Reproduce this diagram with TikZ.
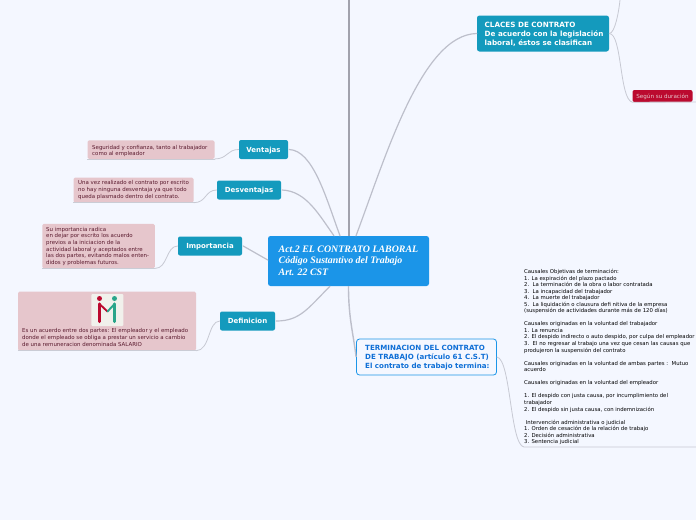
\documentclass[tikz,border=0pt]{standalone}
\usepackage{fontspec}
\setmainfont{DejaVu Sans}
\newfontfamily\titlefont{Liberation Serif}
\definecolor{bgc}{HTML}{F4F7FF}
\definecolor{teal1}{HTML}{149ABD}
\definecolor{blue1}{HTML}{1B95E8}
\definecolor{pinkb}{HTML}{E6C6CC}
\definecolor{pinkt}{HTML}{5A1A2E}
\definecolor{redb}{HTML}{BB0A2F}
\definecolor{linec}{HTML}{BDBFCB}
\definecolor{bluet}{HTML}{0F6FD6}
\definecolor{dgreen}{HTML}{2AA58A}
\definecolor{iconb}{HTML}{F1F1EC}
\tikzset{
 x=1pt,y=-1pt,
 branch/.style={fill=teal1,rounded corners=2pt,text=white,font=\bfseries\fontsize{7}{8.6}\selectfont,inner sep=0pt,text height=5pt,text depth=0pt},
 notebox/.style={fill=pinkb,rounded corners=1.5pt,inner sep=0pt},
 notetext/.style={text=pinkt,font=\fontsize{5.45}{6.6}\selectfont,align=left,inner sep=0pt,anchor=north west},
 link/.style={draw=linec,line width=1.2pt,line cap=round},
 thin link/.style={draw=linec!85!white,line width=0.8pt,line cap=round},
 under/.style={draw=linec!80!white,line width=0.8pt},
}
\begin{document}
\begin{tikzpicture}
\useasboundingbox (0,0) rectangle (696,520);
\fill[bgc] (0,0) rectangle (696,520);
% nodes
\node[fill=blue1,rounded corners=2.5pt,minimum width=161pt,minimum height=50pt,inner sep=0pt] (central) at (348.5,261) {};
\node[text=white,font=\titlefont\bfseries\itshape\fontsize{9.9}{11.7}\selectfont,align=left,inner sep=0pt,anchor=north west] (ctitle) at (278.5,245.5) {Act.2 EL CONTRATO LABORAL\\Código Sustantivo del Trabajo\\Art. 22 CST};
\coordinate (topend) at (349,0);
\node[branch,minimum width=49pt,minimum height=19pt] (ventajas) at (263.5,149.5) {Ventajas};
\node[branch,minimum width=64pt,minimum height=19pt] (desv) at (249,190) {Desventajas};
\node[branch,minimum width=64pt,minimum height=19pt] (imp) at (210,246) {Importancia};
\node[branch,minimum width=55pt,minimum height=19pt] (defi) at (247.5,321) {Definicion};
\node[fill=teal1,rounded corners=2.5pt,minimum width=132pt,minimum height=36pt,inner sep=0pt] (claces) at (543,33.5) {};
\node[text=white,font=\bfseries\fontsize{7.2}{8.8}\selectfont,align=left,inner sep=0pt,anchor=north west] (clacest) at (484.5,22) {CLACES DE CONTRATO\\De acuerdo con la legislación\\laboral, éstos se clasifican};
\node[fill=redb,rounded corners=2pt,minimum width=60pt,minimum height=12pt,inner sep=0pt,text=pinkb,font=\fontsize{5.6}{6}\selectfont,text height=4pt,text depth=0pt] (dura) at (662.5,96) {Según su duración};
\node[draw=blue1,line width=0.8pt,fill=bgc,rounded corners=3pt,minimum width=140pt,minimum height=36pt,inner sep=0pt] (term) at (426.5,357) {};
\node[text=bluet,font=\bfseries\fontsize{7.1}{9}\selectfont,align=left,inner sep=0pt,anchor=north west] (termt) at (365,345) {TERMINACION DEL CONTRATO\\DE TRABAJO (artículo 61 C.S.T)\\El contrato de trabajo termina:};
% notes
\node[notebox,minimum width=127pt,minimum height=18.5pt] (n1) at (151,149.5) {};
\node[notetext] (n1t) at (92,145) {Seguridad y confianza, tanto al trabajador\\como al empleador};
\node[notebox,minimum width=120pt,minimum height=25pt] (n2) at (133.5,190) {};
\node[notetext] (n2t) at (78,180.5) {Una vez realizado el contrato por escrito\\no hay ninguna desventaja ya que todo\\queda plasmado dentro del contrato.};
\node[notebox,minimum width=112.5pt,minimum height=44.5pt] (n3) at (98.5,246) {};
\node[notetext] (n3t) at (46,227) {Su importancia radica\\en dejar por escrito los acuerdo\\previos a la iniciacion de la\\actividad laboral y aceptados entre\\las dos partes, evitando malos enten-\\didos y problemas futuros.};
\node[notebox,minimum width=178pt,minimum height=59pt] (n4) at (107,321) {};
\node[notetext] (n4t) at (22,328.5) {Es un acuerdo entre dos partes: El empleador y el empleado\\donde el empleado se obliga a prestar un servicio a cambio\\de una remuneracion denominada SALARIO};
\node[fill=iconb,rounded corners=1pt,minimum width=32pt,minimum height=32pt,inner sep=0pt] (icon) at (107.3,310) {};
\node[notetext,text=black,font=\fontsize{5.35}{6.55}\selectfont] (tt) at (524,269) {Causales Objetivas de terminación:\\
1. La expiración del plazo pactado\\
2.\ \ La terminación de la obra o labor contratada\\
3.\ \ La incapacidad del trabajador\\
4.\ \ La muerte del trabajador\\
5.\ \ La liquidación o clausura defi nitiva de la empresa\\
(suspensión de actividades durante más de 120 días)\\[6.55pt]
Causales originadas en la voluntad del trabajador\\
1. La renuncia\\
2. El despido indirecto o auto despido, por culpa del empleador\\
3.\ \ El no regresar al trabajo una vez que cesan las causas que\\
produjeron la suspensión del contrato\\[6.55pt]
Causales originadas en la voluntad de ambas partes :\ \ Mutuo\\
acuerdo\\[6.55pt]
Causales originadas en la voluntad del empleador\\[6.55pt]
1. El despido con justa causa, por incumplimiento del\\
trabajador\\
2. El despido sin justa causa, con indemnización\\[6.55pt]
\ Intervención administrativa o judicial\\
1. Orden de cesación de la relación de trabajo\\
2. Decisión administrativa\\
3. Sentencia judicial};
% icon
\fill[redb] (99.5,298.5) circle (2.5);
\fill[dgreen] (114.5,298.5) circle (2.5);
\draw[redb,line width=3.4pt,line cap=round] (99.5,304) -- (99.5,321.5);
\draw[dgreen,line width=3.4pt,line cap=round] (114.5,304) -- (114.5,321.5);
\draw[redb,line width=1.9pt,line cap=round] (99.5,304) -- (107.5,311.5);
\draw[dgreen,line width=1.9pt,line cap=round] (114.5,304) -- (107.5,311.5);
% connectors
\draw[draw=linec!85!black,line width=2.2pt] (topend) -- (central.north -| topend);
\draw[link] (ventajas.east) ++(1,0) .. controls +(24,1) and +(-14,-38) .. ([xshift=-8.5pt]central.north);
\draw[link] (desv.east) ++(1,0) .. controls +(24,1) and +(-15,-21) .. ([xshift=-14.5pt]central.north);
\draw[link] (imp.east) ++(1,0) -- ([yshift=1pt]central.west);
\draw[link] (defi.east) ++(1,0) .. controls +(24,0) and +(-22,22) .. ([xshift=-18.5pt]central.south);
\draw[draw=linec,line width=1.4pt] (central.south) .. controls +(0,32) and +(-3,-25) .. (term.west);
\draw[link] (claces.west) .. controls +(-55,1) and +(30,-80) .. ([xshift=7.5pt]central.north);
% twig links
\draw[thin link] (n1.south east) .. controls +(13,0) and +(-12,0) .. (ventajas.west);
\draw[thin link] (n2.south east) .. controls +(13,0) and +(-12,0) .. (desv.west);
\draw[thin link] (n3.south east) .. controls +(13,0) and +(-12,0) .. (imp.west);
\draw[thin link] (n4.south east) .. controls +(14,0) and +(-12,0) .. (defi.west);
\draw[under] (n1.south west) -- (n1.south east);
\draw[under] (n2.south west) -- (n2.south east);
\draw[under] (n3.south west) -- (n3.south east);
\draw[under] (n4.south west) -- (n4.south east);
\coordinate (upperend) at (620,0);
\coordinate (bottomend) at (696,447);
\coordinate (duraend) at (696,102);
\draw[thin link] (claces.east) .. controls +(6,0) and +(-1,10) .. (upperend);
\draw[thin link] (claces.east) .. controls +(13,0) and +(-13,-3) .. (dura.south west);
\draw[under] (dura.south west) -- (duraend);
\draw[thin link] (term.east) .. controls +(14,2) and +(-14,-2) .. (bottomend -| tt.west) -- (bottomend);
\end{tikzpicture}
\end{document}
